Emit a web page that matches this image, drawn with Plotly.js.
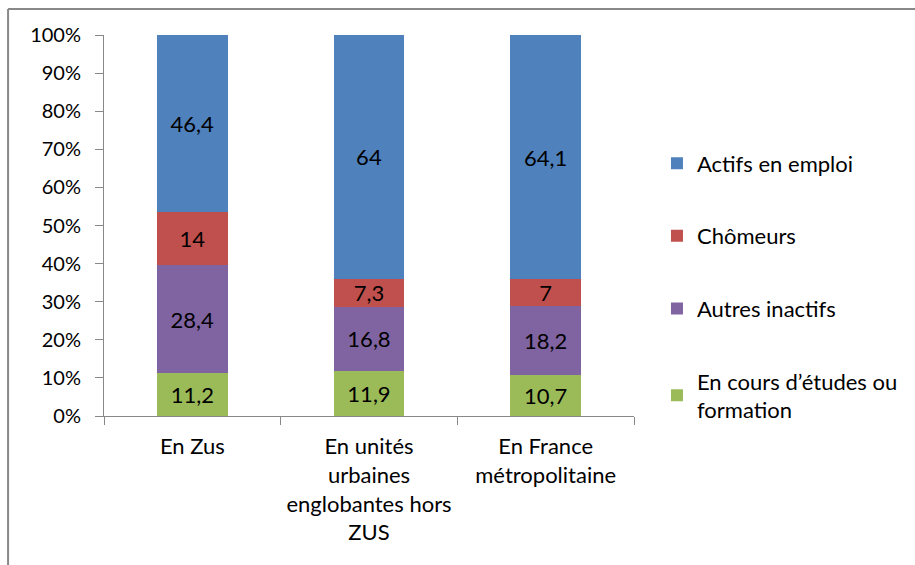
<!DOCTYPE html>
<html>
<head>
<meta charset="utf-8">
<script src="https://cdn.plot.ly/plotly-3.0.1.min.js"></script>
<style>html,body{margin:0;padding:0;background:#fff;}#chart{width:915px;height:565px;}</style>
</head>
<body>
<div id="chart"></div>
<script>
var categories = ["En Zus", "En unités<br>urbaines<br>englobantes hors<br>ZUS", "En France<br>métropolitaine"];
var seriesNames = ["En cours d’études ou<br>formation", "Autres inactifs", "Chômeurs", "Actifs en emploi"];
var etudes = [11.2, 11.9, 10.7];
var autresInactifs = [28.4, 16.8, 18.2];
var chomeurs = [14, 7.3, 7];
var actifs = [46.4, 64, 64.1];
var colors = ["#9BBB59", "#8064A2", "#C0504D", "#4F81BD"];
var yTicks = [0, 10, 20, 30, 40, 50, 60, 70, 80, 90, 100];

var FONT = "Lato, 'Open Sans', sans-serif";
function lbl(arr){ return arr.map(function(v){ return String(v).replace('.', ','); }); }

var allSeries = [etudes, autresInactifs, chomeurs, actifs];
var traces = allSeries.map(function(vals, i){
  return {
    type: 'bar',
    name: seriesNames[i],
    x: categories,
    y: vals,
    text: lbl(vals),
    textposition: 'inside',
    insidetextanchor: 'middle',
    textangle: 0,
    constraintext: 'none',
    textfont: {family: FONT, size: 22, color: '#000'},
    marker: {color: colors[i], line: {width: 0}},
    legendgroup: 'g' + i,
    legendrank: 10 - i,
    hoverinfo: 'none'
  };
});

var layout = {
  width: 915, height: 565,
  margin: {l: 104, r: 281, t: 35, b: 149},
  paper_bgcolor: '#fff', plot_bgcolor: '#fff',
  barmode: 'stack',
  bargap: 0.6,
  uniformtext: {mode: 'show', minsize: 22},
  font: {family: FONT, size: 20, color: '#000'},
  showlegend: true,
  legend: {
    traceorder: 'grouped',
    tracegroupgap: 41,
    x: 0.718, xref: 'container', xanchor: 'left',
    y: 0.748, yref: 'container', yanchor: 'top',
    maxheight: 1,
    font: {family: FONT, size: 22, color: '#000'},
    itemwidth: 30,
    bgcolor: 'rgba(0,0,0,0)'
  },
  xaxis: {
    type: 'category',
    showline: true, linecolor: '#888', linewidth: 1,
    ticks: 'outside', tickson: 'boundaries', ticklen: 8, tickcolor: '#888',
    ticklabelstandoff: 11,
    showgrid: false, zeroline: false,
    tickfont: {family: FONT, size: 22, color: '#000'}
  },
  yaxis: {
    range: [0, 100],
    tickvals: yTicks,
    ticktext: yTicks.map(function(v){ return v + '%'; }),
    showline: true, linecolor: '#888', linewidth: 1,
    ticks: 'outside', ticklen: 8, tickcolor: '#888',
    ticklabelstandoff: 10,
    showgrid: false, zeroline: false,
    tickfont: {family: FONT, size: 20, color: '#000'}
  },
  shapes: [
    {type: 'line', xref: 'paper', yref: 'paper', x0: -0.181, x1: 1.6, y0: 1.068, y1: 1.068, line: {color: '#888', width: 2}},
    {type: 'line', xref: 'paper', yref: 'paper', x0: -0.181, x1: -0.181, y0: 1.068, y1: -0.5, line: {color: '#888', width: 2}}
  ]
};

Plotly.newPlot('chart', traces, layout, {displayModeBar: false, staticPlot: true});
</script>
</body>
</html>
